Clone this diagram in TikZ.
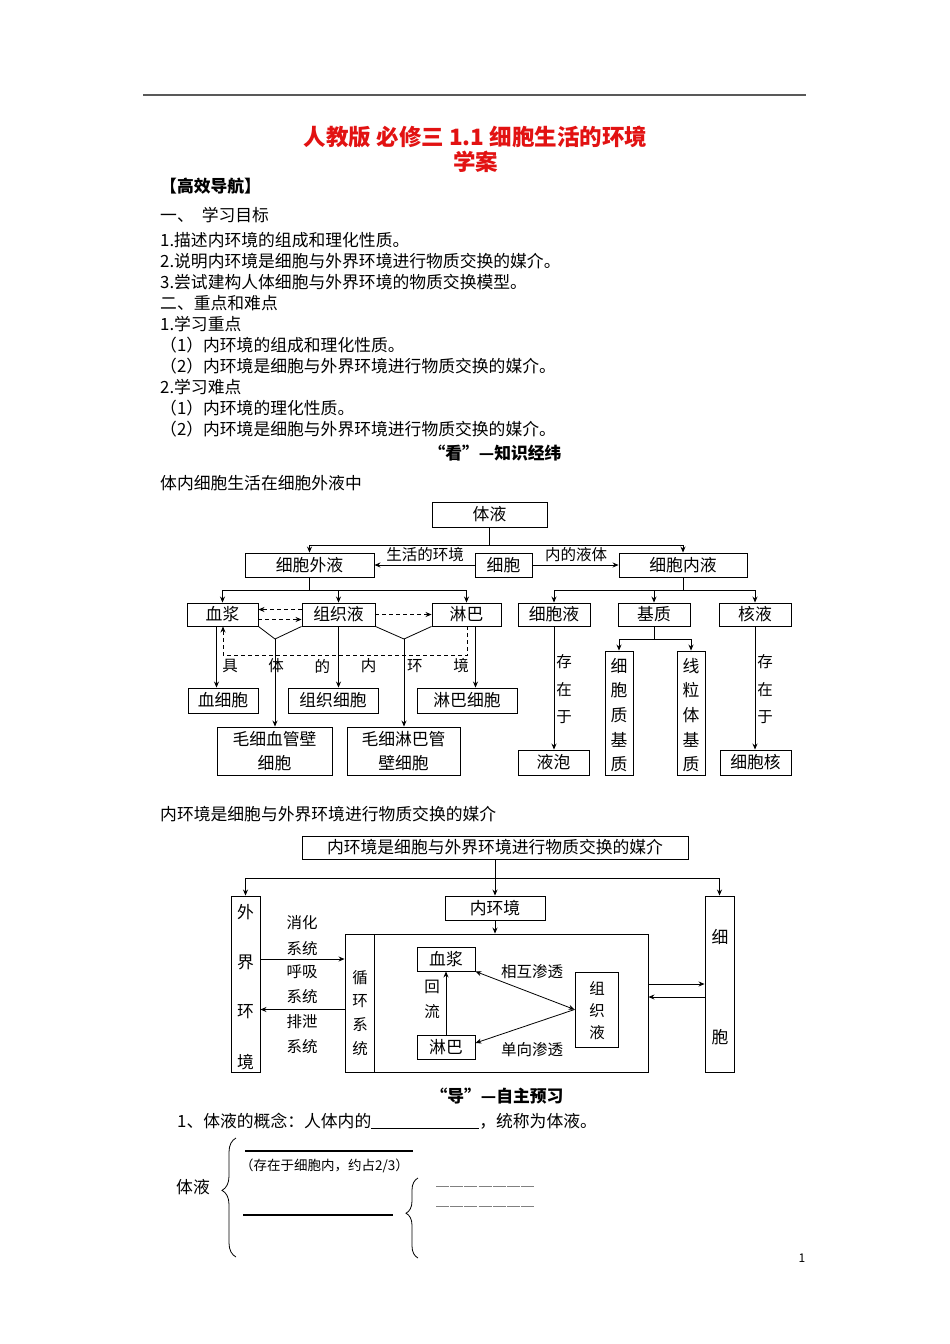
\documentclass[tikz,border=0pt]{standalone}
\usepackage{fontspec}
\setmainfont{Noto Sans CJK SC}
\usetikzlibrary{arrows.meta,decorations.pathreplacing}
\definecolor{titlered}{RGB}{226,18,18}
\newcommand\bodyfont{\fontsize{16.8}{21}\selectfont}
\newcommand\labfont{\fontsize{15.5}{18}\selectfont}

\begin{document}
\begin{tikzpicture}[x=1pt,y=-1pt,
  box/.style={draw,line width=0.9pt,inner sep=0pt,font=\bodyfont,align=center},
  arr/.style={line width=0.8pt,-{Stealth[length=6pt,width=5pt]}},
  darr/.style={arr,dash pattern=on 4pt off 3pt},
  arrb/.style={line width=0.8pt,{Stealth[length=6pt,width=5pt]}-{Stealth[length=6pt,width=5pt]}},
  txt/.style={anchor=west,inner sep=0pt,font=\bodyfont},
  lab/.style={inner sep=0pt,font=\labfont}]
\useasboundingbox (0,0) rectangle (950,1344);
\fill[white] (0,0) rectangle (950,1344);

% header and text
\draw[gray!70!black,line width=1.6pt] (143,95) -- (806,95);
\node[font=\fontsize{22.5}{25}\selectfont\bfseries,text=titlered] (title1) at (475.5,137) {人教版\ 必修三\ 1.1\ 细胞生活的环境};
\node[font=\fontsize{22.5}{25}\selectfont\bfseries,text=titlered] (title2) at (475.5,162) {学案};
\node[txt,font=\bodyfont\bfseries] (nav) at (160,186) {【高效导航】};
\node[txt] (goal) at (160,215) {一、\hspace{8pt}学习目标};
\foreach \t [count=\i] in {1.描述内环境的组成和理化性质。,
  2.说明内环境是细胞与外界环境进行物质交换的媒介。,
  3.尝试建构人体细胞与外界环境的物质交换模型。,
  二、重点和难点,
  1.学习重点,
  （1）内环境的组成和理化性质。,
  （2）内环境是细胞与外界环境进行物质交换的媒介。,
  2.学习难点,
  （1）内环境的理化性质。,
  （2）内环境是细胞与外界环境进行物质交换的媒介。}
  \node[txt] (ln\i) at (160,{219+21*\i}) {\t};
\node[font=\bodyfont\bfseries] (kan) at (495,453) {“看”—知识经纬};
\node[txt] (sub1) at (160,483) {体内细胞生活在细胞外液中};

% diagram 1
\node[box,minimum width=115pt,minimum height=25pt] (tiye) at (489.5,514.5) {体液};
\node[box,minimum width=129pt,minimum height=24pt] (waiye) at (309.5,565) {细胞外液};
\node[box,minimum width=57pt,minimum height=24pt] (xibao) at (503.5,565) {细胞};
\node[box,minimum width=128pt,minimum height=24pt] (neiye) at (683,565) {细胞内液};
\node[box,minimum width=71pt,minimum height=23pt] (xuejiang) at (222.5,614.5) {血浆};
\node[box,minimum width=73pt,minimum height=23pt] (zuzhiye) at (338.5,614.5) {组织液};
\node[box,minimum width=69pt,minimum height=23pt] (linba) at (466.5,614.5) {淋巴};
\node[box,minimum width=72pt,minimum height=23pt] (xibaoye) at (554,614.5) {细胞液};
\node[box,minimum width=72pt,minimum height=23pt] (jizhi) at (654,614.5) {基质};
\node[box,minimum width=72pt,minimum height=23pt] (heye) at (755,614.5) {核液};
\node[box,minimum width=70pt,minimum height=25pt] (xuexibao) at (223,700.5) {血细胞};
\node[box,minimum width=90pt,minimum height=25pt] (zuzhixibao) at (333,700.5) {组织细胞};
\node[box,minimum width=100pt,minimum height=25pt] (linbaxibao) at (467,700.5) {淋巴细胞};
\node[box,minimum width=115pt,minimum height=48pt,font=\fontsize{16.8}{24}\selectfont] (maoxi1) at (274.5,751) {毛细血管壁\\细胞};
\node[box,minimum width=113pt,minimum height=48pt,font=\fontsize{16.8}{24}\selectfont] (maoxi2) at (403.5,751) {毛细淋巴管\\壁细胞};
\node[box,minimum width=71pt,minimum height=25pt] (yepao) at (553.5,762.5) {液泡};
\node[box,minimum width=28pt,minimum height=124pt] (xzjz) at (619,713) {};
\node[box,minimum width=28pt,minimum height=124pt] (xltjz) at (691,713) {};
\node[box,minimum width=71pt,minimum height=25pt] (xibaohe) at (755.5,762.5) {细胞核};
\foreach \c/\d [count=\i] in {细/线,胞/粒,质/体,基/基,质/质} {
  \node[font=\bodyfont] (xz\i) at (619,{666+24.5*(\i-1)}) {\c};
  \node[font=\bodyfont] (xl\i) at (691,{666+24.5*(\i-1)}) {\d};
}

\coordinate (t1) at (489.5,545);
\draw[line width=0.8pt] (tiye) -- (t1);
\draw[arr] (t1) -| (waiye.north);
\draw[arr] (t1) -| (neiye.north);
\draw[arr] (xibao) -- (waiye);
\draw[arr] (xibao) -- (neiye);
\node[lab] (shhj) at (425,555) {生活的环境};
\node[lab] (ndyt) at (576,555) {内的液体};

\coordinate (w1) at (309.5,590);
\draw[line width=0.8pt] (waiye) -- (w1);
\draw[line width=0.8pt] (xuejiang.north |- w1) -- (linba.north |- w1);
\foreach \n in {xuejiang,zuzhiye,linba} \draw[arr] (\n.north |- w1) -- (\n.north);
\coordinate (n1) at (683,590);
\draw[line width=0.8pt] (neiye) -- (n1);
\draw[line width=0.8pt] (xibaoye.north |- n1) -- (heye.north |- n1);
\foreach \n in {xibaoye,jizhi,heye} \draw[arr] (\n.north |- n1) -- (\n.north);

% dashed exchange
\draw[darr] ([yshift=5pt]zuzhiye.west) -- ([yshift=5pt]xuejiang.east);
\draw[darr] ([yshift=-5pt]xuejiang.east) -- ([yshift=-5pt]zuzhiye.west);
\draw[darr] (zuzhiye) -- (linba);
\draw[darr] ([xshift=1pt]linba.south) -- ++(0,29) -| ([xshift=0.5pt]xuejiang.south);

% to the cells
\draw[arr] ([xshift=-6pt]xuejiang.south) -- ([xshift=-6pt]xuejiang.south |- xuexibao.north);
\draw[arr] (zuzhiye.south) -- (zuzhiye.south |- zuzhixibao.north);
\draw[arr] ([xshift=9pt]linba.south) -- ([xshift=9pt]linba.south |- linbaxibao.north);
\coordinate (v1) at (275,639);
\coordinate (v2) at (404,639);
\draw[line width=0.8pt] (xuejiang.south east) -- (v1) -- (zuzhiye.south west);
\draw[line width=0.8pt] (zuzhiye.south east) -- (v2) -- (linba.south west);
\draw[arr] (v1) -- (v1 |- maoxi1.north);
\draw[arr] (v2) -- (v2 |- maoxi2.north);
\foreach \c [count=\i] in {具,体,的,内,环,境}
  \node[lab] (jt\i) at ({230+46.2*(\i-1)},666) {\c};

\draw[arr] (xibaoye.south) -- (xibaoye.south |- yepao.north);
\draw[arr] (heye.south) -- (heye.south |- xibaohe.north);
\foreach \c [count=\i] in {存,在,于} {
  \node[lab] (cza\i) at (564,{662+27.5*(\i-1)}) {\c};
  \node[lab] (czb\i) at (765,{662+27.5*(\i-1)}) {\c};
}
\coordinate (j1) at (654,639);
\draw[line width=0.8pt] (jizhi) -- (j1);
\draw[line width=0.8pt] (xzjz.north |- j1) -- (xltjz.north |- j1);
\draw[arr] (xzjz.north |- j1) -- (xzjz.north);
\draw[arr] (xltjz.north |- j1) -- (xltjz.north);

\node[txt] (sub2) at (160,814) {内环境是细胞与外界环境进行物质交换的媒介};

% diagram 2
\node[box,minimum width=386pt,minimum height=23pt] (mj) at (495,847.5) {内环境是细胞与外界环境进行物质交换的媒介};
\node[box,minimum width=100pt,minimum height=24pt] (nhj) at (495,908) {内环境};
\node[box,minimum width=29pt,minimum height=176pt] (wjhj) at (245.5,984) {};
\node[box,minimum width=29pt,minimum height=176pt] (xb2) at (719.5,984) {};
\node[box,minimum width=303pt,minimum height=138pt] (bigbox) at (496.5,1003) {};
\node[box,minimum width=29pt,minimum height=138pt] (xhxt) at (359.5,1003) {};
\node[box,minimum width=58pt,minimum height=24pt] (xj2) at (446,959) {血浆};
\node[box,minimum width=58pt,minimum height=24pt] (lb2) at (446,1047) {淋巴};
\node[box,minimum width=43pt,minimum height=75pt] (zzy2) at (596.5,1009.5) {};
\foreach \c [count=\i] in {外,界,环,境}
  \node[font=\bodyfont] (wj\i) at (245.5,{912+50*(\i-1)}) {\c};
\foreach \c [count=\i] in {细,胞}
  \node[font=\bodyfont] (xc\i) at (720,{937+100*(\i-1)}) {\c};
\foreach \c [count=\i] in {循,环,系,统}
  \node[lab] (xh\i) at (360,{978+23.5*(\i-1)}) {\c};
\foreach \c [count=\i] in {组,织,液}
  \node[lab] (zz\i) at (597,{988+22.5*(\i-1)}) {\c};
\foreach \t/\y [count=\i] in {消化/923,系统/949,呼吸/972,系统/997,排泄/1022,系统/1047}
  \node[lab] (xt\i) at (302,\y) {\t};

\coordinate (m1) at (495,878);
\draw[line width=0.8pt] (mj) -- (m1);
\draw[line width=0.8pt] (wjhj.north |- m1) -- (xb2.north |- m1);
\foreach \n in {wjhj,nhj,xb2} \draw[arr] (\n.north |- m1) -- (\n.north);
\draw[arr] (nhj) -- (nhj.south |- bigbox.north);
\draw[arr] (wjhj.east |- xj2.center) -- (bigbox.west |- xj2.center);
\draw[arr] (bigbox.west |- zzy2.center) -- (wjhj.east |- zzy2.center);
\draw[arr] (bigbox.east |- xb2.center) -- (xb2.west);
\draw[arr] ([yshift=-13pt]xb2.west) -- ([yshift=-13pt]xb2.west -| bigbox.east);
\draw[arrb] (xj2.south east) -- (zzy2.west);
\draw[arr] (zzy2.west) -- ([yshift=4pt]lb2.east);
\draw[arr] (lb2) -- (xj2);
\node[lab] (hxst) at (532,972) {相互渗透};
\node[lab] (dxst) at (532,1050) {单向渗透};
\node[lab] (hui) at (432,987) {回};
\node[lab] (liu) at (432,1012) {流};

% preview part
\node[font=\bodyfont\bfseries] (dao) at (497,1096) {“导”—自主预习};
\node[txt] (q1) at (177,1121) {1、体液的概念：人体内的\underline{\hspace{108pt}}，统称为体液。};
\node[font=\bodyfont] (ty) at (193,1187) {体液};
\draw[decorate,decoration={brace,amplitude=14pt,aspect=0.56},line width=0.8pt] (236,1257) -- (236,1138);
\draw[line width=1.3pt] (245,1151) -- (413,1151);
\node[txt,font=\fontsize{13.5}{16}\selectfont] (cz) at (240,1166) {（存在于细胞内，约占2/3）};
\draw[line width=1.3pt] (243,1215) -- (393,1215);
\draw[decorate,decoration={brace,amplitude=12pt,aspect=0.56},line width=0.8pt] (418,1258) -- (418,1178);
\draw[gray,line width=0.8pt,dash pattern=on 13pt off 1.2pt] (436,1186) -- (535,1186);
\draw[gray,line width=0.8pt,dash pattern=on 13pt off 1.2pt] (436,1206) -- (535,1206);
\node[font=\fontsize{12}{14}\selectfont] (pg) at (802,1258) {1};
\end{tikzpicture}
\end{document}
